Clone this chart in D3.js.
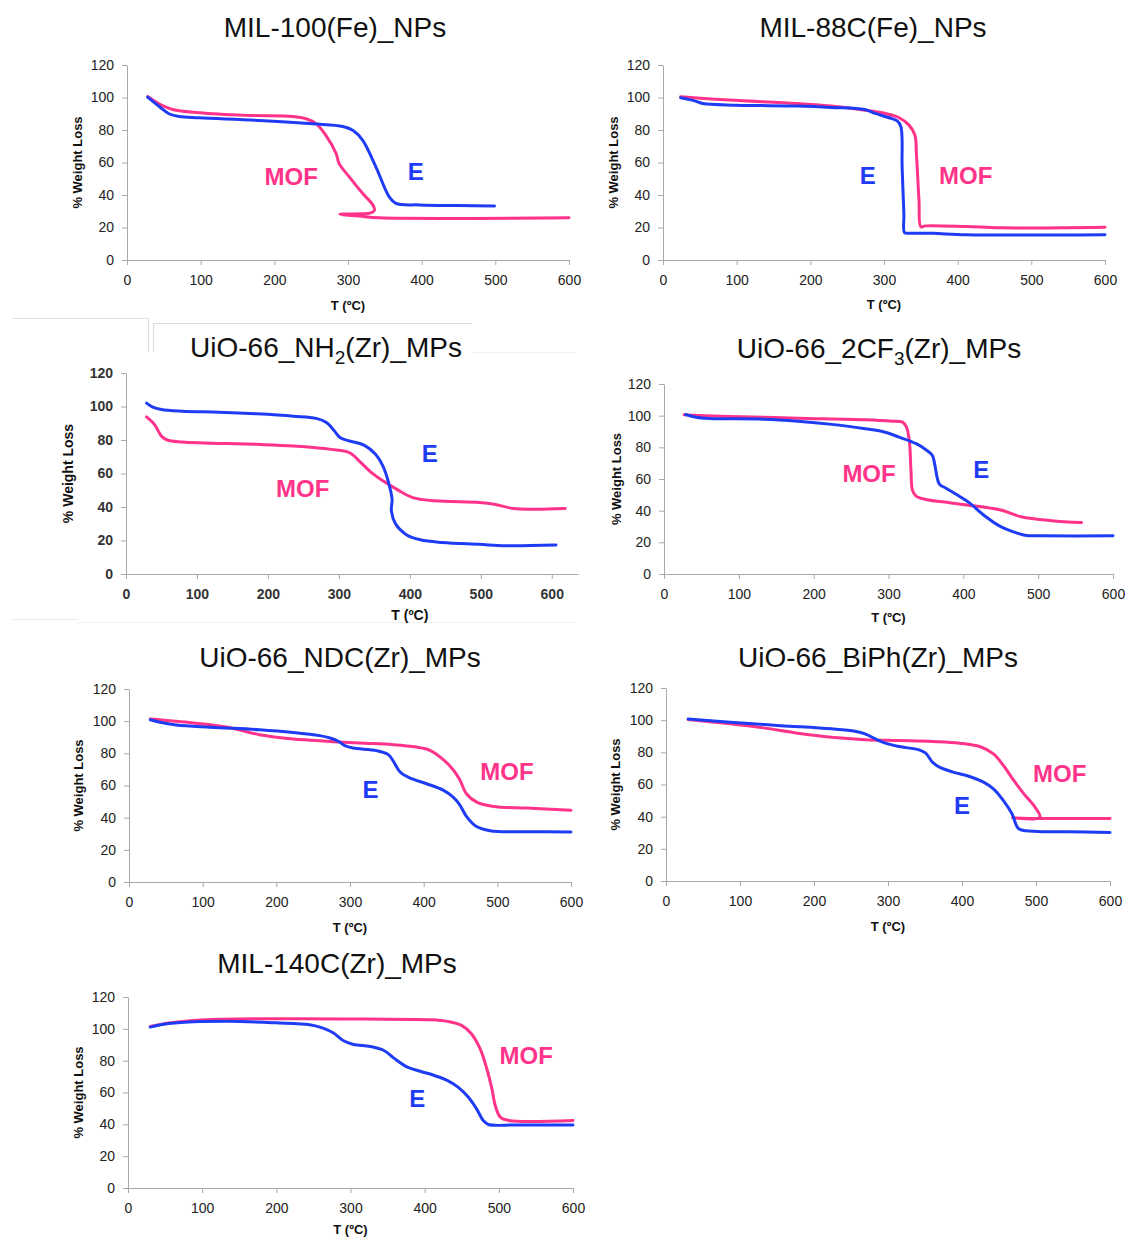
<!DOCTYPE html>
<html>
<head>
<meta charset="utf-8">
<script src="https://cdn.jsdelivr.net/npm/d3@7"></script>
<style>
  body { margin: 0; background: #fff; }
  svg text { font-family: "Liberation Sans", Arial, sans-serif; }
  .axis path, .axis line { stroke: #a9a9a9; stroke-width: 1px; }
  .axis .tick text { font-size: 14px; fill: #222; }
  .axis.heavy .tick text { font-size: 14px; font-weight: bold; fill: #333; }
</style>
</head>
<body>
<svg id="chart" width="1125" height="1238"></svg>
<script>
// tick labels shared by every panel
var xTicks = [0, 100, 200, 300, 400, 500, 600];
var yTicks = [0, 20, 40, 60, 80, 100, 120];

// [T (ºC), % weight]
var mil100E = [[28,100.2],[45,94],[57,90],[71,88.3],[98,87.5],[180,85.9],[252,83.8],[293,82.2],[307,79.7],[320,73.6],[338,57.2],[356,38.8],[365,34.8],[397,33.9],[451,33.5],[499,33.3]];
var mil100MOF = [[28,100.6],[44,96],[62,92.6],[98,90.6],[162,89],[225,88.3],[243,86.9],[257,83.8],[270,76.7],[284,65.4],[288,59.3],[302,51],[320,40.9],[334,33.7],[336,30.7],[331,29],[316,28.4],[289,28.2],[300,27.6],[316,27],[343,26],[600,26]];

var mil88E = [[24,99.8],[44,97.8],[54,96.3],[100,95.3],[182,94.7],[228,93.9],[274,92.6],[288,90.2],[306,87.7],[318,85.6],[323,81.9],[324.6,57.2],[327,28.4],[328,16.8],[335,16.5],[366,16.4],[412,15.6],[600,15.6]];
var mil88MOF = [[24,100.4],[90,98.4],[182,96.3],[228,94.7],[274,92.2],[302,90.2],[320,87.7],[334,83],[342,76.8],[344,65.5],[347.5,36.6],[350,20.4],[356,21],[412,20.6],[458,19.8],[600,20.2]];

var nh2E = [[29,102],[37,99.8],[50,98.2],[79,97.2],[131,96.6],[184,95.6],[236,94.2],[268,92.9],[283,90.3],[294,85.3],[302,81.3],[315,79.4],[336,76.8],[352,71.4],[362,64.5],[370,54.6],[375,44.6],[374,37.7],[380,29.8],[394,23.8],[415,20.4],[446,18.8],[498,17.7],[535,16.9],[606,17.3]];
var nh2MOF = [[29,93.8],[40,89.3],[50,82.3],[58,80],[79,78.8],[184,77.4],[236,76.4],[289,74.4],[315,72.4],[331,66.5],[346,60.5],[362,55.6],[383,50.2],[404,45.6],[435,43.7],[498,42.7],[519,41.7],[546,39.1],[577,38.7],[619,39.1]];

var cf3E = [[29,100.7],[43,99],[61,98.2],[133,97.8],[179,96.5],[224,94.5],[269,91.7],[292,90],[314,86.5],[337,82.3],[350,78.5],[358.5,75],[361.6,69.7],[364.8,61.4],[368,56.8],[377.5,54],[395.6,48.8],[409,44.6],[427,37.3],[450,29.9],[472,25.8],[484,24.3],[504,24.1],[600,24.1]];
var cf3MOF = [[27,100.5],[88,99.5],[179,98.4],[269,97.4],[305,96.5],[318.7,95.9],[324,92.8],[327.8,84.4],[330,65.5],[332,53],[336.8,49.2],[350,47.1],[382,45],[404.6,43.6],[450,40.4],[477,36.2],[517.6,33.7],[558,32.5]];

var ndcE = [[29,100.9],[42,99.3],[64,97.6],[110,96.2],[177,94.7],[223,93],[259,91],[273,89.5],[284,87.5],[293,84.8],[304,83.3],[336,81.7],[352,79.2],[359,75],[368,68.4],[381,64.7],[404,61.1],[427,57],[440,52.8],[449,48],[458,40.8],[470,35],[490,31.9],[540,31.3],[600,31.1]];
var ndcMOF = [[29,101.3],[87,98.9],[132,96.4],[177,91.6],[223,88.9],[268,87.5],[313,86.4],[359,85.4],[390,83.9],[408.5,81.9],[427,76],[440,69.8],[449,63.6],[458,54.9],[472,49.7],[495,47],[540,46],[600,44.6]];

var biphE = [[30,100.8],[87,98.7],[155,96.6],[223.5,94.6],[255.5,93.1],[269,91.5],[283,88.3],[296.5,85.7],[315,83.6],[342,81.5],[351,79.5],[360,73.9],[369.5,70.8],[388,67.7],[406,65.6],[429,61.5],[442.5,57.3],[456,50],[467.6,41.8],[476.7,32.5],[497,31],[543,30.6],[600,30.2]];
var biphMOF = [[30,100.4],[87,97.7],[132,95.2],[178,91.9],[223.5,89.4],[269,87.9],[315,87.3],[360,86.7],[397,85.7],[424,83.6],[442.5,79],[456,71.8],[470,62.5],[483.6,54.2],[497,47],[505.5,39.7],[497,38.6],[468,39.3],[490,38.9],[600,38.9]];

var mil140E = [[30,101.1],[44,102.6],[67,103.8],[135,104.7],[199,103.8],[245,102.6],[263,100.5],[276.5,97.5],[290,92.7],[304,90.2],[326.6,88.9],[345,86.4],[358.5,81.6],[376.8,75.9],[395,73.2],[413,70.7],[431,67.5],[445,63.4],[459,57],[470,49.7],[479,42.4],[486,39.9],[523,39.6],[600,39.6]];
var mil140MOF = [[30,101.5],[58,103.8],[112.5,105.9],[226,106.4],[317.5,106.1],[408.6,105.7],[431,104.7],[449.7,102.2],[463,96.9],[474.7,87.5],[483.8,74.9],[490.7,62.3],[495.2,51.8],[502,44.5],[513.4,42.4],[600,42.4]];

// titles: [main, subscript, rest]
var titles = [
	["MIL-100(Fe)_NPs", "", ""],
	["MIL-88C(Fe)_NPs", "", ""],
	["UiO-66_NH", "2", "(Zr)_MPs"],
	["UiO-66_2CF", "3", "(Zr)_MPs"],
	["UiO-66_NDC(Zr)_MPs", "", ""],
	["UiO-66_BiPh(Zr)_MPs", "", ""],
	["MIL-140C(Zr)_MPs", "", ""]
];
// where the E / MOF labels sit, in data units [T, %]
var labelE = [[392,54.2],[278,51.7],[428,71.6],[424,65.7],[328,57.2],[400,46.6],[390,55.9]];
var labelMOF = [[223,51.1],[411,51.7],[249,50.7],[274,63.2],[513,68.4],[532,66.5],[537,82.9]];
// T value under which "T (ºC)" is centred
var xTitleAt = [300, 300, 400, 300, 300, 300, 300];

var blue = "#1f3cf5", pink = "#ff338a";

// panel layout (pixels)
var panels = [
	{ e: mil100E, mof: mil100MOF, xr: [127, 569], yr: [260, 65], tx: 335, ty: 37, ylx: 77, xly: 50 },
	{ e: mil88E, mof: mil88MOF, xr: [663, 1105], yr: [260, 65], tx: 873, ty: 37, ylx: 613, xly: 49 },
	{ e: nh2E, mof: nh2MOF, xr: [126, 578], xmax: 637, yr: [574, 373], tx: 326, ty: 357, ylx: 68, xly: 46, heavy: true },
	{ e: cf3E, mof: cf3MOF, xr: [664, 1113], yr: [574, 384], tx: 879, ty: 358, ylx: 616, xly: 48 },
	{ e: ndcE, mof: ndcMOF, xr: [129, 571], yr: [882, 689], tx: 340, ty: 667, ylx: 78, xly: 50 },
	{ e: biphE, mof: biphMOF, xr: [666, 1110], yr: [881, 688], tx: 878, ty: 667, ylx: 615, xly: 50 },
	{ e: mil140E, mof: mil140MOF, xr: [128, 573], yr: [1188, 997], tx: 337, ty: 973, ylx: 78, xly: 46 }
];

var svg = d3.select("#chart");

// leftover frame lines from the pasted third panel
var frame = [
	[12, 318.5, 148, 318.5, "#e2e2e2"], [148.5, 318, 148.5, 352, "#dcdcdc"],
	[153, 323.5, 472, 323.5, "#dcdcdc"], [153.5, 323, 153.5, 352, "#dcdcdc"],
	[472, 352.5, 576, 352.5, "#f0f0f0"], [12, 619.5, 78, 619.5, "#ececec"],
	[78, 622.5, 576, 622.5, "#f0f0f0"]
];
frame.forEach(function(f) {
	svg.append("line").attr("x1", f[0]).attr("y1", f[1]).attr("x2", f[2]).attr("y2", f[3])
		.attr("stroke", f[4]).attr("stroke-width", 1);
});

panels.forEach(function(p, i) {
	var x = d3.scaleLinear().domain([0, p.xmax || 600]).range(p.xr);
	var y = d3.scaleLinear().domain([0, 120]).range(p.yr);
	var g = svg.append("g");

	// axes
	g.append("g")
		.attr("class", "axis" + (p.heavy ? " heavy" : ""))
		.attr("transform", "translate(0," + p.yr[0] + ")")
		.call(d3.axisBottom(x).tickValues(xTicks).tickSize(5).tickSizeOuter(0).tickPadding(10));
	g.append("g")
		.attr("class", "axis" + (p.heavy ? " heavy" : ""))
		.attr("transform", "translate(" + p.xr[0] + ",0)")
		.call(d3.axisLeft(y).tickValues(yTicks).tickSize(5).tickSizeOuter(0).tickPadding(8));

	// curves
	var line = d3.line()
		.x(function(d) { return x(d[0]); })
		.y(function(d) { return y(d[1]); })
		.curve(d3.curveCatmullRom.alpha(0.5));
	g.append("path").datum(p.mof).attr("d", line)
		.attr("fill", "none").attr("stroke", pink).attr("stroke-width", 3)
		.attr("stroke-linejoin", "round").attr("stroke-linecap", "round");
	g.append("path").datum(p.e).attr("d", line)
		.attr("fill", "none").attr("stroke", blue).attr("stroke-width", 3)
		.attr("stroke-linejoin", "round").attr("stroke-linecap", "round");

	// title
	var t = g.append("text").attr("x", p.tx).attr("y", p.ty)
		.attr("text-anchor", "middle").attr("font-size", 28).attr("fill", "#111");
	t.append("tspan").text(titles[i][0]);
	if (titles[i][1]) {
		t.append("tspan").attr("font-size", 19).attr("dy", 7).text(titles[i][1]);
		t.append("tspan").attr("dy", -7).text(titles[i][2]);
	}

	// axis titles
	var ymid = (p.yr[0] + p.yr[1]) / 2;
	g.append("text")
		.attr("transform", "translate(" + (p.ylx + 4.5) + "," + ymid + ") rotate(-90)")
		.attr("text-anchor", "middle").attr("font-size", p.heavy ? 14 : 13).attr("font-weight", "bold")
		.attr("fill", "#111").text("% Weight Loss");
	g.append("text")
		.attr("x", x(xTitleAt[i])).attr("y", p.yr[0] + p.xly)
		.attr("text-anchor", "middle").attr("font-size", p.heavy ? 14 : 13).attr("font-weight", "bold")
		.attr("fill", "#111").text("T (ºC)");

	// series labels
	g.append("text").attr("x", x(labelMOF[i][0])).attr("y", y(labelMOF[i][1])).attr("dy", "0.35em")
		.attr("text-anchor", "middle").attr("font-size", 24).attr("font-weight", "bold")
		.attr("fill", pink).text("MOF");
	g.append("text").attr("x", x(labelE[i][0])).attr("y", y(labelE[i][1])).attr("dy", "0.35em")
		.attr("text-anchor", "middle").attr("font-size", 24).attr("font-weight", "bold")
		.attr("fill", blue).text("E");
});
</script>
</body>
</html>
